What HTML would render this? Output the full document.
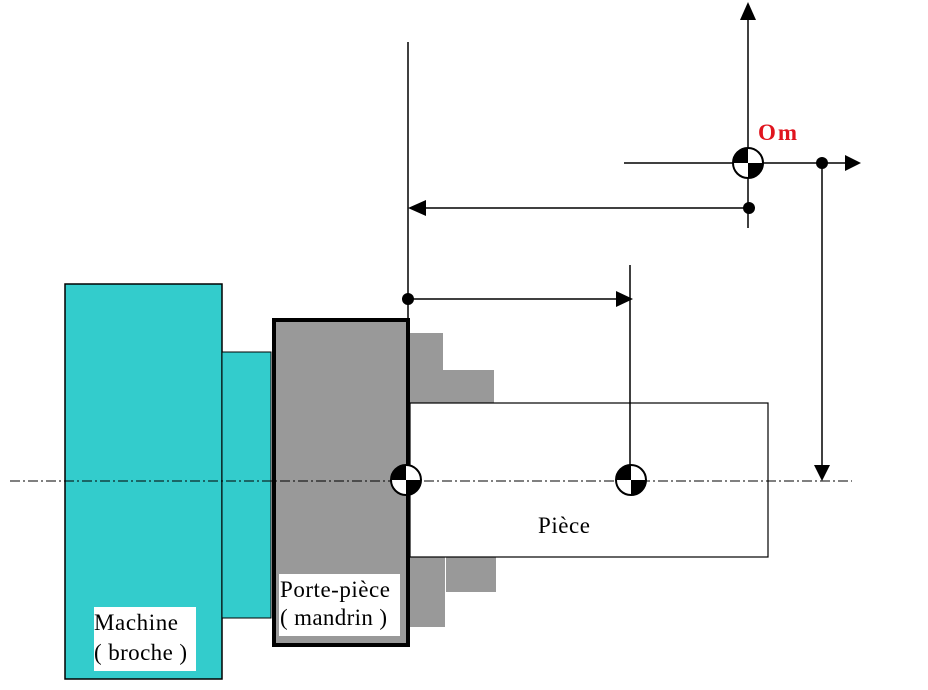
<!DOCTYPE html>
<html><head><style>body{margin:0;background:#fff}svg{display:block}text{font-family:"Liberation Serif",serif}</style></head><body>
<svg width="928" height="690" viewBox="0 0 928 690" xmlns="http://www.w3.org/2000/svg">
<defs>
<g id="sym"><circle r="15" fill="#fff" stroke="#000" stroke-width="2"/><path d="M0,0 L-15,0 A15,15 0 0 1 0,-15 Z" fill="#000"/><path d="M0,0 L15,0 A15,15 0 0 1 0,15 Z" fill="#000"/></g>
</defs>
<rect x="65" y="284" width="157" height="395" fill="#33cccc" stroke="#000" stroke-width="1.5"/>
<rect x="222" y="352" width="49" height="266" fill="#33cccc" stroke="#000" stroke-width="1"/>
<rect x="274" y="320" width="134" height="325" fill="#999" stroke="#000" stroke-width="4"/>
<rect x="94" y="607" width="102" height="64" fill="#fff"/>
<text x="94" y="630" font-size="23" textLength="84">Machine</text>
<text x="94" y="660" font-size="23" textLength="93">( broche )</text>
<rect x="279" y="574" width="121" height="62" fill="#fff"/>
<text x="280" y="597" font-size="23" textLength="110">Porte-pièce</text>
<text x="280" y="625" font-size="23" textLength="107">( mandrin )</text>
<rect x="409" y="333" width="34" height="70" fill="#999"/>
<rect x="443" y="370" width="51" height="33" fill="#999"/>
<rect x="410" y="557" width="35" height="70" fill="#999"/>
<rect x="446" y="557" width="50" height="35" fill="#999"/>
<rect x="410" y="403" width="358" height="154" fill="#fff" stroke="#000" stroke-width="1.2"/>
<line x1="408" y1="318" x2="408" y2="647" stroke="#000" stroke-width="4"/>
<text x="538" y="533" font-size="23" textLength="52">Pièce</text>
<line x1="10" y1="481" x2="852" y2="481" stroke="#000" stroke-width="1" stroke-dasharray="10,3,2,3"/>
<g stroke="#000" stroke-width="1.5" fill="none">
<line x1="408" y1="42" x2="408" y2="481"/>
<line x1="630" y1="265" x2="630" y2="481"/>
<line x1="748" y1="18" x2="748" y2="228"/>
<line x1="624" y1="163" x2="846" y2="163"/>
<line x1="822" y1="163" x2="822" y2="468"/>
<line x1="424" y1="208" x2="749" y2="208"/>
<line x1="408" y1="299" x2="618" y2="299"/>
</g>
<g fill="#000">
<polygon points="748,2 740,20 756,20"/>
<polygon points="861,163 845,155 845,171"/>
<polygon points="822,481 814,465 830,465"/>
<polygon points="408,208 426,200 426,216"/>
<polygon points="633,299 616,291 616,307"/>
<circle cx="822" cy="163" r="6"/>
<circle cx="749" cy="208" r="6"/>
<circle cx="408" cy="299" r="6"/>
</g>
<use href="#sym" x="748" y="163"/>
<use href="#sym" x="406" y="480"/>
<use href="#sym" x="631" y="480"/>
<text x="758" y="140" font-size="23" font-weight="bold" fill="#e0141e" textLength="39">Om</text>
</svg>
</body></html>
